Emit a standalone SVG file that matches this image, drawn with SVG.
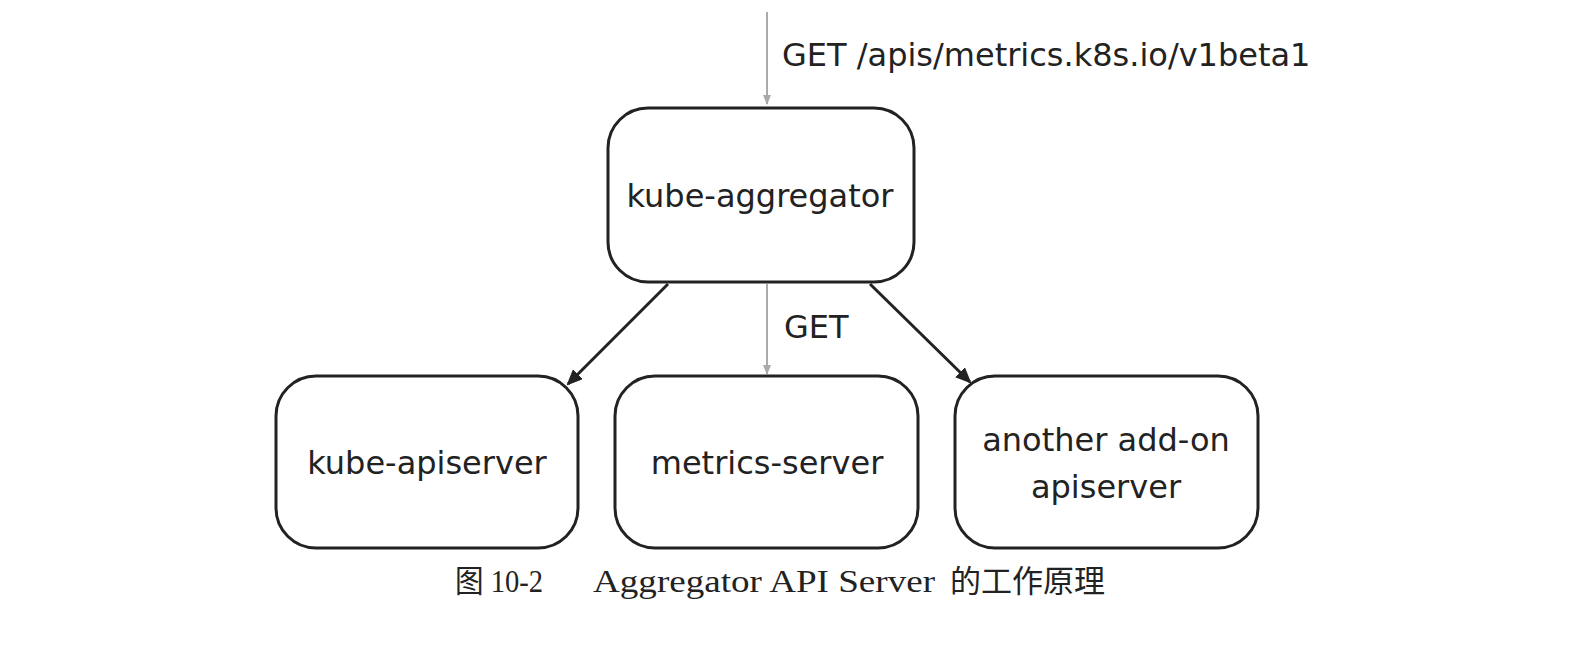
<svg xmlns="http://www.w3.org/2000/svg" width="1572" height="650" viewBox="0 0 1572 650">
<style>
.box{fill:#fff;stroke:#222;stroke-width:3}
.lbl{font-family:"DejaVu Sans",sans-serif;font-size:32px;fill:#222;text-anchor:middle}
.elbl{font-family:"DejaVu Sans",sans-serif;font-size:32px;fill:#222}
.cap{font-family:"Liberation Serif","Noto Sans CJK SC",serif;font-size:31px;fill:#222}
.grey{stroke:#aaa;stroke-width:2;fill:none}
.blk{stroke:#222;stroke-width:3;fill:none}
</style>
<defs>
<marker id="ag" markerWidth="10" markerHeight="10" refX="9" refY="5" orient="auto" markerUnits="userSpaceOnUse" viewBox="0 0 10 10"><path d="M0,1 L10,5 L0,9 Z" fill="#aaa"/></marker>
<marker id="ab" markerWidth="16" markerHeight="14" refX="14" refY="7" orient="auto" markerUnits="userSpaceOnUse" viewBox="0 0 16 14"><path d="M0,0 L16,7 L0,14 Z" fill="#222"/></marker>
</defs>
<rect width="1572" height="650" fill="#fff"/>
<g id="connectors">
<line class="grey" x1="767" y1="12" x2="767" y2="104" marker-end="url(#ag)"/>
<text class="elbl" x="782" y="66">GET /apis/metrics.k8s.io/v1beta1</text>
<line class="grey" x1="767" y1="284" x2="767" y2="374" marker-end="url(#ag)"/>
<text class="elbl" x="784" y="338">GET</text>
<line class="blk" x1="668" y1="284" x2="568" y2="384" marker-end="url(#ab)"/>
<line class="blk" x1="870" y1="284" x2="970" y2="382" marker-end="url(#ab)"/>
</g>
<g id="kube-aggregator">
<rect class="box" x="608" y="108" width="306" height="174" rx="40"/>
<text class="lbl" x="760" y="207">kube-aggregator</text>
</g>
<g id="kube-apiserver">
<rect class="box" x="276" y="376" width="302" height="172" rx="40"/>
<text class="lbl" x="427" y="474">kube-apiserver</text>
</g>
<g id="metrics-server">
<rect class="box" x="615" y="376" width="303" height="172" rx="40"/>
<text class="lbl" x="767" y="474">metrics-server</text>
</g>
<g id="another">
<rect class="box" x="955" y="376" width="303" height="172" rx="40"/>
<text class="lbl" x="1106" y="451">another add-on</text>
<text class="lbl" x="1106" y="498">apiserver</text>
</g>
<text class="cap" x="455" y="592" textLength="88" lengthAdjust="spacingAndGlyphs">图 10-2</text>
<text class="cap" x="593" y="592" textLength="342" lengthAdjust="spacingAndGlyphs">Aggregator API Server</text>
<text class="cap" x="950" y="592" textLength="155" lengthAdjust="spacingAndGlyphs">的工作原理</text>
</svg>
